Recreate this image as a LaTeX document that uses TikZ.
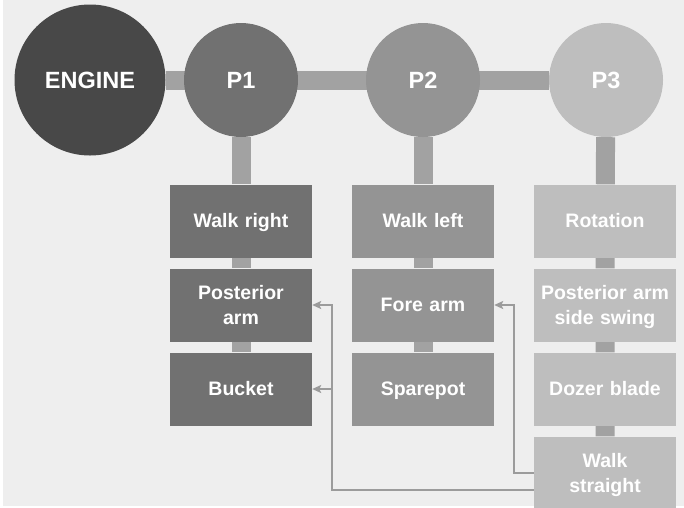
\documentclass[tikz,border=0pt]{standalone}
\usepackage{fontspec}
\setmainfont{Liberation Sans}
\usetikzlibrary{arrows.meta,calc}
\pgfdeclarelayer{bg}
\pgfsetlayers{bg,main}
\definecolor{paper}{HTML}{EEEEEE}
\definecolor{eng}{HTML}{484848}
\definecolor{pone}{HTML}{717171}
\definecolor{ptwo}{HTML}{949494}
\definecolor{pthree}{HTML}{BEBEBE}
\definecolor{shaft}{HTML}{A2A2A2}
\definecolor{link}{HTML}{9B9B9B}

\begin{document}
\begin{tikzpicture}[x=1pt,y=-1pt]
  \tikzstyle{Hub}=[circle,minimum size=114pt,inner sep=0pt,text=white,font=\bfseries\fontsize{23.5}{26}\selectfont]
  \tikzstyle{Task}=[rectangle,minimum width=142pt,minimum height=73pt,inner sep=0pt,text width=140pt,align=center,text=white,font=\bfseries\fontsize{19.5}{25}\selectfont,execute at begin node={\rule{0pt}{18pt}},execute at end node={\rule[-4.5pt]{0pt}{4.5pt}}]
  \tikzstyle{Shaft}=[line width=19pt,draw=shaft]
  \tikzstyle{Link}=[line width=2pt,draw=link,-{Stealth[length=9pt,width=8pt,inset=2pt]}]
  \useasboundingbox (0,0) rectangle (684,507);
  \node[Hub,fill=eng,minimum size=151pt] (E) at (90,80) {ENGINE};
  \node[Hub,fill=pone] (P1) at (241,80) {P1};
  \node[Hub,fill=ptwo] (P2) at (423,80) {P2};
  \node[Hub,fill=pthree] (P3) at (606,80) {P3};
  \node[Task,fill=pone] (A1) at (241,221) {Walk right};
  \node[Task,fill=pone] (B1) at (241,305) {Posterior\\arm};
  \node[Task,fill=pone] (C1) at (241,389) {Bucket};
  \node[Task,fill=ptwo] (A2) at (423,221) {Walk left};
  \node[Task,fill=ptwo] (B2) at (423,305) {Fore arm};
  \node[Task,fill=ptwo] (C2) at (423,389) {Sparepot};
  \node[Task,fill=pthree] (A3) at (605,221) {Rotation};
  \node[Task,fill=pthree] (B3) at (605,305) {Posterior arm\\side swing};
  \node[Task,fill=pthree] (C3) at (605,389) {Dozer blade};
  \node[Task,fill=pthree] (D3) at (605,473) {Walk\\straight};
  \begin{pgfonlayer}{bg}
    \fill[white] (0,0) rectangle (684,507);
    \fill[paper] (3,0) rectangle (684,506);
    \draw[Shaft] (E) -- (P3);
    \draw[Shaft] (P1) -- (A1) -- (B1) -- (C1);
    \draw[Shaft] (P2) -- (A2) -- (B2) -- (C2);
    \draw[Shaft] (P3) -- (A3) -- (B3) -- (C3) -- (D3);
  \end{pgfonlayer}
  \draw[Link] (D3.west) -- ++(-20,0) |- (B2.east);
  \draw[Link] ([yshift=-17pt]D3.west) -| ([xshift=20pt]B1.east) -- (B1.east);
  \draw[Link] ([xshift=20pt]C1.east) -- (C1.east);
\end{tikzpicture}
\end{document}
